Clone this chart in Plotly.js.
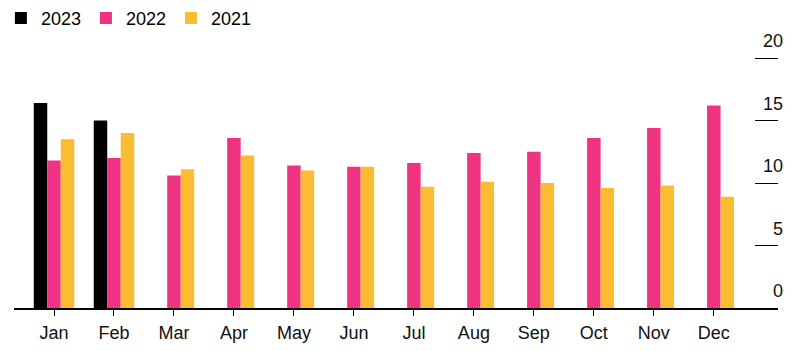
<!DOCTYPE html>
<html>
<head>
<meta charset="utf-8">
<script src="https://cdn.plot.ly/plotly-3.0.1.min.js"></script>
<style>html,body{margin:0;padding:0;background:#fff;}#chart{width:800px;height:351px;}</style>
</head>
<body>
<div id="chart"></div>
<script>
const months = ["Jan","Feb","Mar","Apr","May","Jun","Jul","Aug","Sep","Oct","Nov","Dec"];
const seriesNames = ["2023","2022","2021"];
const values2023 = [16.4, 15.0, null, null, null, null, null, null, null, null, null, null];
const values2022 = [11.8, 12.0, 10.6, 13.6, 11.4, 11.3, 11.6, 12.4, 12.5, 13.6, 14.4, 16.2];
const values2021 = [13.5, 14.0, 11.1, 12.2, 11.0, 11.3, 9.7, 10.1, 10.0, 9.6, 9.8, 8.9];
const yTicks = [0, 5, 10, 15, 20];
const colors = ["#000000", "#ef3282", "#fbbc32"];

const allValues = [values2023, values2022, values2021];
const traces = allValues.map((v, i) => ({
  type: "bar",
  name: seriesNames[i],
  x: months,
  y: v,
  marker: {color: colors[i]},
  hoverinfo: "x+y+name"
}));
// invisible helper trace to activate the tick-line axis
traces.push({type: "scatter", mode: "none", x: [months[0]], y: [0], yaxis: "y2",
             showlegend: false, hoverinfo: "skip"});

const yRange = [0, 23.04];
const xEnd = 764 / 772;
const layout = {
  width: 800, height: 351,
  margin: {l: 14, r: 14, t: 20, b: 43, autoexpand: false},
  paper_bgcolor: "#fff", plot_bgcolor: "#fff",
  font: {family: "Liberation Sans, Arial, sans-serif", color: "#111"},
  barmode: "group",
  bargap: 0.325,
  bargroupgap: 0,
  showlegend: true,
  legend: {orientation: "h", x: -0.017, xanchor: "left", y: 1.07, yanchor: "top",
           font: {size: 18, color: "#000"}, itemwidth: 30, tracegroupgap: 0,
           bgcolor: "rgba(0,0,0,0)"},
  xaxis: {
    type: "category",
    domain: [0, xEnd],
    range: [-0.667, 12.07],
    showline: true, linecolor: "#000", linewidth: 1.5,
    ticks: "outside", ticklen: 6, tickcolor: "#000", tickwidth: 1,
    ticklabelstandoff: 2,
    tickfont: {size: 18, color: "#111"},
    showgrid: false, zeroline: false, fixedrange: true
  },
  yaxis: {
    side: "right", anchor: "free", position: 1,
    range: yRange,
    tickvals: yTicks,
    ticktext: yTicks.map(String),
    ticks: "",
    ticklabelposition: "inside",
    ticklabelshift: -17,
    ticklabelstandoff: 0,
    tickfont: {size: 18, color: "#111"},
    showgrid: false, zeroline: false, showline: false, fixedrange: true
  },
  yaxis2: {
    overlaying: "y", side: "right", anchor: "free", position: xEnd,
    range: yRange,
    tickvals: yTicks,
    ticks: "inside", ticklen: 23, tickcolor: "#000", tickwidth: 1,
    showticklabels: false,
    showgrid: false, zeroline: false, showline: false, fixedrange: true
  }
};

Plotly.newPlot("chart", traces, layout, {displayModeBar: false, staticPlot: true});
</script>
</body>
</html>
